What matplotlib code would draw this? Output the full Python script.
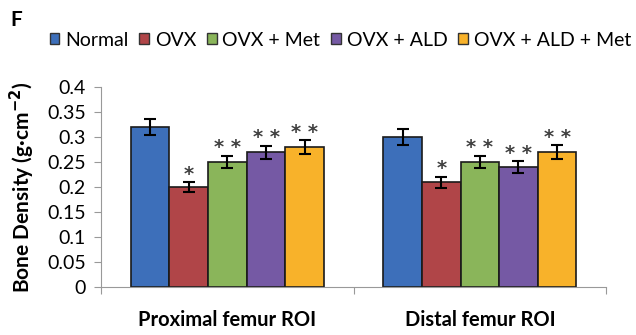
import numpy as np
import matplotlib.pyplot as plt
from matplotlib.patches import Patch

plt.rcParams['font.family'] = ['Lato', 'DejaVu Sans']

# Daten
regions = ['Proximal femur ROI', 'Distal femur ROI']
groups = ['Normal', 'OVX', 'OVX + Met', 'OVX + ALD', 'OVX + ALD + Met']
colors = ['#3D6FBA', '#B04548', '#8AB55A', '#7559A4', '#F8B22A']

means = {
    'Normal':          [0.32, 0.30],
    'OVX':             [0.20, 0.21],
    'OVX + Met':       [0.25, 0.25],
    'OVX + ALD':       [0.27, 0.24],
    'OVX + ALD + Met': [0.28, 0.27],
}
errors = {
    'Normal':          [0.016, 0.016],
    'OVX':             [0.010, 0.011],
    'OVX + Met':       [0.0125, 0.0125],
    'OVX + ALD':       [0.013, 0.012],
    'OVX + ALD + Met': [0.014, 0.0135],
}
stars = {
    'Normal':          ['', ''],
    'OVX':             ['*', '*'],
    'OVX + Met':       ['**', '**'],
    'OVX + ALD':       ['**', '**'],
    'OVX + ALD + Met': ['**', '**'],
}
yticks = [0, 0.05, 0.1, 0.15, 0.2, 0.25, 0.3, 0.35, 0.4]
ytick_labels = ['0', '0.05', '0.1', '0.15', '0.2', '0.25', '0.3', '0.35', '0.4']

fig = plt.figure(figsize=(6.36, 3.35), dpi=100)
ax = fig.add_axes([0.159, 0.143, 0.794, 0.597])

x = np.arange(len(regions))
w = 0.153
for i, g in enumerate(groups):
    pos = x + (i - 2) * w
    ax.bar(pos, means[g], w, color=colors[i], edgecolor='#1a1a1a', linewidth=1.2, zorder=2)
    ax.errorbar(pos, means[g], yerr=errors[g], fmt='none', ecolor='black',
                elinewidth=1.5, capsize=4, capthick=1.5, zorder=3)
    for j in range(len(regions)):
        if stars[g][j]:
            ax.text(pos[j], means[g][j] + errors[g][j] + 0.016, ' '.join(stars[g][j]),
                    ha='center', va='center', fontsize=14, fontweight='bold',
                    color='#404040', family='DejaVu Sans')

ax.set_xlim(-0.5, 1.5)
ax.set_ylim(0, 0.4)
ax.set_yticks(yticks)
ax.set_yticklabels(ytick_labels, fontsize=14)
ax.set_xticks([-0.5, 0.5, 1.5])
ax.set_xticklabels([])
ax.tick_params(axis='x', length=5, color='#999999', direction='out')
ax.tick_params(axis='y', length=5, color='#999999', direction='out', pad=6)
for s in ['top', 'right']:
    ax.spines[s].set_visible(False)
for s in ['left', 'bottom']:
    ax.spines[s].set_color('#999999')

for j, r in enumerate(regions):
    ax.text(x[j], -0.066, r, transform=ax.transData, ha='center', va='center',
            fontsize=14.5, fontweight='bold')

ax.set_ylabel('Bone Density (g·cm$^{\\mathbf{-2}}$)', fontsize=15, fontweight='bold', labelpad=7)

fig.text(0.016, 0.94, 'F', fontsize=15, fontweight='bold', va='center')

handles = [Patch(facecolor=c, edgecolor='#333333', linewidth=1.0) for c in colors]
fig.legend(handles, groups, loc='center left', bbox_to_anchor=(0.078, 0.88), ncol=5,
           frameon=False, fontsize=14, handlelength=0.5, handleheight=0.5,
           handletextpad=0.3, columnspacing=0.55, borderaxespad=0, borderpad=0)

plt.savefig('out.png', dpi=100)
